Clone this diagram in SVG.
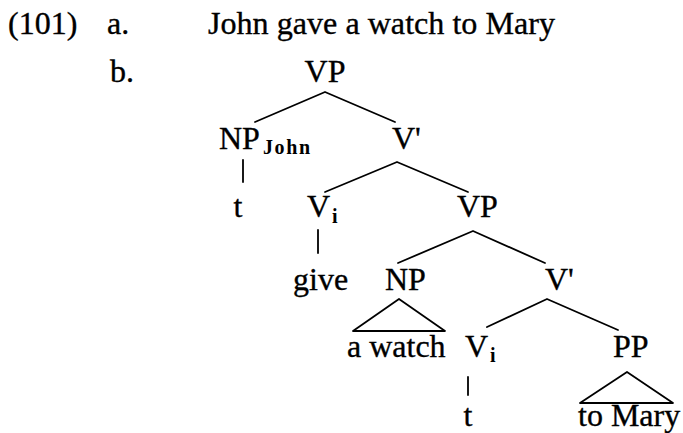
<svg xmlns="http://www.w3.org/2000/svg" width="683" height="433" viewBox="0 0 683 433">
<style>
text{font-family:"Liberation Serif","Times New Roman",serif;font-size:32px;fill:#000;stroke:#000;stroke-width:0.35}
.sub{font-size:20px;font-weight:bold;stroke-width:0}
.edge{stroke:#000;stroke-width:1.8;fill:none;stroke-linecap:round;stroke-linejoin:round}
</style>
<rect width="683" height="433" fill="#fff"/>
<g id="header">
<text x="8" y="34">(101)</text>
<text x="107" y="34">a.</text>
<text x="208" y="34" textLength="347" lengthAdjust="spacingAndGlyphs">John gave a watch to Mary</text>
<text x="110" y="82">b.</text>
</g>
<g id="connectors">
<path class="edge" d="M255,122 L325,92 L395,122"/>
<path class="edge" d="M243,160 L243,182"/>
<path class="edge" d="M325,192 L397,162 L468,192"/>
<path class="edge" d="M318,230 L318,253"/>
<path class="edge" d="M398,263 L473,231 L545,263"/>
<path class="edge" d="M353,331 L399,299 L445,331 Z"/>
<path class="edge" d="M487,327 L547,299 L618,330"/>
<path class="edge" d="M468,377 L468,395"/>
<path class="edge" d="M580,403 L627,372 L673,403 Z"/>
</g>
<g id="vp1"><text x="325" y="82" text-anchor="middle">VP</text></g>
<g id="np-john"><text x="219" y="149">NP</text><text class="sub" x="263" y="154" textLength="47" lengthAdjust="spacing">John</text></g>
<g id="vbar1"><text x="392" y="149">V'</text></g>
<g id="t1"><text x="238" y="217" text-anchor="middle">t</text></g>
<g id="vi1"><text x="307" y="217">V</text><text class="sub" x="332" y="223">i</text></g>
<g id="vp2"><text x="457" y="217">VP</text></g>
<g id="give"><text x="293" y="290">give</text></g>
<g id="np2"><text x="385" y="290">NP</text></g>
<g id="vbar2"><text x="545" y="290">V'</text></g>
<g id="awatch"><text x="347" y="357">a watch</text></g>
<g id="vi2"><text x="465" y="357">V</text><text class="sub" x="490" y="362">i</text></g>
<g id="pp"><text x="613" y="357">PP</text></g>
<g id="t2"><text x="468" y="426" text-anchor="middle">t</text></g>
<g id="tomary"><text x="578" y="426">to Mary</text></g>
</svg>
